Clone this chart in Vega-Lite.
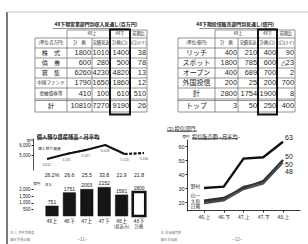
{
"$schema": "https://vega.github.io/schema/vega-lite/v6.json",
"width": 308, "height": 244, "padding": 0, "autosize": "none",
"background": "#ffffff",
"config": {"view": {"stroke": null}, "axis": {"grid": false, "labelFont": "Liberation Sans", "labelColor": "#222", "domainColor": "#222", "tickColor": "#222", "labelFontSize": 5, "title": null}, "text": {"font": "Noto Sans CJK JP", "color": "#1a1a1a"}},
"datasets": {
"frame": [{"a":0,"b":0,"a2":0,"b2":1,"s":"left"},{"a":0,"b":0,"a2":1,"b2":0,"s":"top"}],
"foot": [{"a":0.01,"b":0.953,"t":"注: 1. 月平均残高"},{"a":0.01,"b":0.984,"t":"資料 営業企画"},{"a":0.51,"b":0.953,"t":"注: 投信販売額"},{"a":0.51,"b":0.984,"t":"資料 投信部"}],
"page": [{"a":0.25,"b":0.983,"t":"−11−"},{"a":0.765,"b":0.983,"t":"−12−"}],
"grid": [
{"c":1,"r":0,"c2":5,"r2":0},{"c":0,"r":1,"c2":5,"r2":1},{"c":0,"r":2,"c2":5,"r2":2},{"c":0,"r":3,"c2":5,"r2":3},{"c":0,"r":4,"c2":5,"r2":4},{"c":0,"r":5,"c2":5,"r2":5},{"c":0,"r":6,"c2":5,"r2":6},{"c":0,"r":7,"c2":5,"r2":7},{"c":0,"r":7.12,"c2":5,"r2":7.12},{"c":0,"r":8,"c2":5,"r2":8},
{"c":0,"r":1,"c2":0,"r2":8},{"c":1,"r":0,"c2":1,"r2":8},{"c":2,"r":1,"c2":2,"r2":8},{"c":5,"r":0,"c2":5,"r2":8},
{"c":11,"r":0,"c2":15,"r2":0},{"c":10,"r":1,"c2":15,"r2":1},{"c":10,"r":2,"c2":15,"r2":2},{"c":10,"r":3,"c2":15,"r2":3},{"c":10,"r":4,"c2":15,"r2":4},{"c":10,"r":5,"c2":15,"r2":5},{"c":10,"r":6,"c2":15,"r2":6},{"c":10,"r":7,"c2":15,"r2":7},{"c":10,"r":7.12,"c2":15,"r2":7.12},{"c":10,"r":8,"c2":15,"r2":8},
{"c":10,"r":1,"c2":10,"r2":8},{"c":11,"r":0,"c2":11,"r2":8},{"c":12,"r":1,"c2":12,"r2":8},{"c":15,"r":0,"c2":15,"r2":8},
{"c":0.55,"r":-0.18,"c2":3.95,"r2":-0.18},{"c":10.58,"r":-0.18,"c2":13.95,"r2":-0.18}
],
"box": [{"c":3,"r":-0.05,"c2":4,"r2":8.2},{"c":13,"r":-0.05,"c2":14,"r2":8.2}],
"cells": [
{"c":2.22,"r":-0.62,"t":"48下期営業部門別収入見通し(百万円)","k":"ttl"},
{"c":11.88,"r":-0.62,"t":"48下期投信販売部門別見通し(億円)","k":"ttl"},
{"c":2,"r":0.5,"t":"48上","k":"hdr"},{"c":3.5,"r":0.5,"t":"48下","k":"hdr"},{"c":4.5,"r":0.5,"t":"前期比","k":"hdr"},
{"c":0.5,"r":1.5,"t":"(単位:百万円)","k":"hdr"},{"c":1.5,"r":1.5,"t":"計　画","k":"hdr"},{"c":2.5,"r":1.5,"t":"実績見込","k":"hdr"},{"c":3.5,"r":1.5,"t":"計画(ロ)","k":"hdr"},{"c":4.5,"r":1.5,"t":"(ロ)/(イ)","k":"hdr"},
{"c":12,"r":0.5,"t":"48上","k":"hdr"},{"c":13.5,"r":0.5,"t":"48下","k":"hdr"},{"c":14.5,"r":0.5,"t":"前期比","k":"hdr"},
{"c":10.5,"r":1.5,"t":"(単位:億円)","k":"hdr"},{"c":11.5,"r":1.5,"t":"計　画","k":"hdr"},{"c":12.5,"r":1.5,"t":"実績見込","k":"hdr"},{"c":13.5,"r":1.5,"t":"計画(ロ)","k":"hdr"},{"c":14.5,"r":1.5,"t":"(ロ)/(イ)","k":"hdr"},
{"c":0.5,"r":2.5,"t":"株　式","k":"lab"},{"c":0.5,"r":3.5,"t":"債　券","k":"lab"},{"c":0.5,"r":4.5,"t":"募　集","k":"lab"},{"c":0.5,"r":5.5,"t":"中国ファンド","k":"labs"},{"c":0.5,"r":6.5,"t":"金融債券等","k":"labs"},{"c":0.5,"r":7.5,"t":"計","k":"lab"},
{"c":10.5,"r":2.5,"t":"リッチ","k":"labr"},{"c":10.5,"r":3.5,"t":"スポット","k":"labr"},{"c":10.5,"r":4.5,"t":"オープン","k":"labr"},{"c":10.5,"r":5.5,"t":"外国投信","k":"labr"},{"c":10.5,"r":6.5,"t":"計","k":"labr"},{"c":10.5,"r":7.5,"t":"トップ","k":"labr"},
{"c":2,"r":2.5,"t":"1800","k":"num"},{"c":3,"r":2.5,"t":"1010","k":"num"},{"c":4,"r":2.5,"t":"1400","k":"num"},{"c":5,"r":2.5,"t":"38","k":"num"},
{"c":2,"r":3.5,"t":"600","k":"num"},{"c":3,"r":3.5,"t":"280","k":"num"},{"c":4,"r":3.5,"t":"500","k":"num"},{"c":5,"r":3.5,"t":"78","k":"num"},
{"c":2,"r":4.5,"t":"6260","k":"num"},{"c":3,"r":4.5,"t":"4230","k":"num"},{"c":4,"r":4.5,"t":"4820","k":"num"},{"c":5,"r":4.5,"t":"13","k":"num"},
{"c":2,"r":5.5,"t":"1790","k":"num"},{"c":3,"r":5.5,"t":"1650","k":"num"},{"c":4,"r":5.5,"t":"1860","k":"num"},{"c":5,"r":5.5,"t":"12","k":"num"},
{"c":2,"r":6.5,"t":"410","k":"num"},{"c":3,"r":6.5,"t":"100","k":"num"},{"c":4,"r":6.5,"t":"610","k":"num"},{"c":5,"r":6.5,"t":"510","k":"num"},
{"c":2,"r":7.5,"t":"10810","k":"num"},{"c":3,"r":7.5,"t":"7270","k":"num"},{"c":4,"r":7.5,"t":"9190","k":"num"},{"c":5,"r":7.5,"t":"26","k":"num"},
{"c":12,"r":2.5,"t":"400","k":"num"},{"c":13,"r":2.5,"t":"210","k":"num"},{"c":14,"r":2.5,"t":"400","k":"num"},{"c":15,"r":2.5,"t":"90","k":"num"},
{"c":12,"r":3.5,"t":"1800","k":"num"},{"c":13,"r":3.5,"t":"785","k":"num"},{"c":14,"r":3.5,"t":"600","k":"num"},{"c":15,"r":3.5,"t":"△23","k":"num"},
{"c":12,"r":4.5,"t":"400","k":"num"},{"c":13,"r":4.5,"t":"689","k":"num"},{"c":14,"r":4.5,"t":"700","k":"num"},{"c":15,"r":4.5,"t":"2","k":"num"},
{"c":12,"r":5.5,"t":"200","k":"num"},{"c":13,"r":5.5,"t":"25","k":"num"},{"c":14,"r":5.5,"t":"200","k":"num"},{"c":15,"r":5.5,"t":"700","k":"num"},
{"c":12,"r":6.5,"t":"2800","k":"num"},{"c":13,"r":6.5,"t":"1754","k":"num"},{"c":14,"r":6.5,"t":"1900","k":"num"},{"c":15,"r":6.5,"t":"8","k":"num"},
{"c":12,"r":7.5,"t":"3","k":"num"},{"c":13,"r":7.5,"t":"50","k":"num"},{"c":14,"r":7.5,"t":"250","k":"num"},{"c":15,"r":7.5,"t":"400","k":"num"}
],
"lineL": [{"p":0,"v":4600,"seg":"a"},{"p":1,"v":5100,"seg":"a"},{"p":2,"v":5500,"seg":"a"},{"p":3,"v":6000,"seg":"a"},{"p":4,"v":5100,"seg":"a"},{"p":4,"v":5100,"seg":"b"},{"p":5,"v":5200,"seg":"b"}],
"ptsL": [{"p":0,"v":4600,"t":"4,612"},{"p":1,"v":5100,"t":"5,135"},{"p":2,"v":5500,"t":"5,527"},{"p":3,"v":6000,"t":"6,028"},{"p":4,"v":5100,"t":"5,113"},{"p":5,"v":5200,"t":"5,200"}],
"annL": [{"p":1.08,"v":6800,"t":"個人預り資産残高・月平均","k":"ttl"},{"p":-0.88,"v":6400,"t":"億円","k":"u"},{"p":-0.46,"v":5600,"t":"個人預り資産","k":"s"}],
"ulL": [{"p":-0.52,"v":6680,"p2":2.73}],
"bars": [
{"p":0,"v":751,"t":"751","pct":"26.2%","lbl":"46上","lbl2":"","kind":"a"},
{"p":1,"v":1751,"t":"1751","pct":"26.6","lbl":"46下","lbl2":"","kind":"a"},
{"p":2,"v":2003,"t":"2003","pct":"25.5","lbl":"47上","lbl2":"","kind":"a"},
{"p":3,"v":2152,"t":"2152","pct":"33.8","lbl":"47下","lbl2":"","kind":"a"},
{"p":4,"v":1581,"t":"1581","pct":"22.9","lbl":"48上","lbl2":"(見込み)","kind":"a"},
{"p":5,"v":1800,"t":"1800","pct":"21.8","lbl":"48下","lbl2":"計画","kind":"b"}
],
"annB": [{"p":-0.88,"v":2380,"t":"億円"},{"p":-0.2,"v":2300,"t":"収入"}],
"lineR": [
{"p":0,"v":30,"s":"野村"},{"p":1,"v":31,"s":"野村"},{"p":2,"v":51,"s":"野村"},{"p":3,"v":52,"s":"野村"},{"p":4,"v":63,"s":"野村"},
{"p":0,"v":21,"s":"山一"},{"p":1,"v":23,"s":"山一"},{"p":2,"v":30,"s":"山一"},{"p":3,"v":35,"s":"山一"},{"p":4,"v":50,"s":"山一"},
{"p":0,"v":20,"s":"大和"},{"p":1,"v":22,"s":"大和"},{"p":2,"v":31,"s":"大和"},{"p":3,"v":34,"s":"大和"},{"p":4,"v":50,"s":"大和"},
{"p":0,"v":19,"s":"日興"},{"p":1,"v":21,"s":"日興"},{"p":2,"v":29,"s":"日興"},{"p":3,"v":33,"s":"日興"},{"p":4,"v":48,"s":"日興"}
],
"endR": [{"p":4.3,"v":66,"t":"63"},{"p":4.3,"v":52,"t":"50"},{"p":4.3,"v":46.5,"t":"50"},{"p":4.3,"v":41.5,"t":"48"}],
"leftR": [{"p":-0.2,"v":30.5,"t":"野村"},{"p":-0.2,"v":24,"t":"山一"},{"p":-0.2,"v":20.3,"t":"大和"},{"p":-0.2,"v":16.8,"t":"日興"}],
"annR": [{"p":-1.87,"v":72.3,"t":"(2) 投信部門","k":"h"},{"p":-0.61,"v":66.5,"t":"投信販売額 −月平均−","k":"h"},{"p":-1.1,"v":66.5,"t":"億円","k":"u"}],
"ulR": [{"p":-1.87,"v":70.6,"p2":-0.35},{"p":-0.61,"v":65.2,"p2":1.72}]
},
"resolve": {"scale": {"x": "independent", "y": "independent", "color": "independent", "strokeWidth": "independent", "strokeDash": "independent", "fill": "independent"}},
"layer": [
{
"encoding": {
"x": {"field": "a", "type": "quantitative", "scale": {"domain": [0, 1], "range": [7, 308], "zero": false, "nice": false}, "axis": null},
"y": {"field": "b", "type": "quantitative", "scale": {"domain": [0, 1], "range": [12, 244], "zero": false, "nice": false}, "axis": null}
},
"layer": [
{"data": {"name": "frame"}, "mark": {"type": "rule"}, "encoding": {"x2": {"field": "a2"}, "y2": {"field": "b2"},
"color": {"field": "s", "type": "nominal", "scale": {"domain": ["left", "top"], "range": ["#7a7a7a", "#c4c4c4"]}, "legend": null},
"strokeWidth": {"field": "s", "type": "nominal", "scale": {"domain": ["left", "top"], "range": [2, 1.2]}, "legend": null}}},
{"data": {"name": "foot"}, "mark": {"type": "text", "align": "left", "fontSize": 3.2, "color": "#777"}, "encoding": {"text": {"field": "t"}}},
{"data": {"name": "page"}, "mark": {"type": "text", "fontSize": 4.5, "color": "#555"}, "encoding": {"text": {"field": "t"}}}
]
},
{
"encoding": {
"x": {"field": "c", "type": "quantitative", "scale": {"domain": [0,1,2,3,4,5,10,11,12,13,14,15], "range": [35,67,92,110,130,147,178,215,238,258,277,295], "zero": false, "nice": false}, "axis": null},
"y": {"field": "r", "type": "quantitative", "scale": {"domain": [0,1,2,3,4,5,6,7,8], "range": [30,38,48,58,68,78,88,99,112], "zero": false, "nice": false}, "axis": null}
},
"layer": [
{"data": {"name": "grid"}, "mark": {"type": "rule", "color": "#666", "strokeWidth": 0.7}, "encoding": {"x2": {"field": "c2"}, "y2": {"field": "r2"}}},
{"data": {"name": "box"}, "mark": {"type": "rect", "fillOpacity": 0, "stroke": "#111", "strokeWidth": 2}, "encoding": {"x2": {"field": "c2"}, "y2": {"field": "r2"}}},
{"data": {"name": "cells"}, "transform": [{"filter": "datum.k === 'num'"}], "mark": {"type": "text", "align": "right", "dx": -1, "baseline": "middle", "font": "Liberation Sans", "fontSize": 7.4, "color": "#2a2a2a"}, "encoding": {"text": {"field": "t"}}},
{"data": {"name": "cells"}, "transform": [{"filter": "datum.k === 'lab'"}], "mark": {"type": "text", "baseline": "middle", "fontSize": 6.2}, "encoding": {"text": {"field": "t"}}},
{"data": {"name": "cells"}, "transform": [{"filter": "datum.k === 'labs'"}], "mark": {"type": "text", "baseline": "middle", "fontSize": 4.6}, "encoding": {"text": {"field": "t"}}},
{"data": {"name": "cells"}, "transform": [{"filter": "datum.k === 'labr'"}], "mark": {"type": "text", "baseline": "middle", "fontSize": 7}, "encoding": {"text": {"field": "t"}}},
{"data": {"name": "cells"}, "transform": [{"filter": "datum.k === 'hdr'"}], "mark": {"type": "text", "baseline": "middle", "fontSize": 4.2}, "encoding": {"text": {"field": "t"}}},
{"data": {"name": "cells"}, "transform": [{"filter": "datum.k === 'ttl'"}], "mark": {"type": "text", "baseline": "middle", "fontSize": 4.9, "fontWeight": "bold"}, "encoding": {"text": {"field": "t"}}}
]
},
{
"encoding": {
"x": {"field": "p", "type": "quantitative", "scale": {"domain": [0, 5], "range": [47, 144], "zero": false, "nice": false}, "axis": null},
"y": {"field": "v", "type": "quantitative", "scale": {"domain": [3500, 6700], "range": [170, 138], "zero": false, "nice": false}, "axis": {"orient": "left", "offset": -33, "values": [5000, 6000], "tickSize": 2, "labelFontSize": 4.5, "labelPadding": 1, "domainWidth": 0.8}}
},
"layer": [
{"data": {"name": "lineL"}, "mark": {"type": "line", "color": "#111", "strokeWidth": 2.2}, "encoding": {"strokeDash": {"field": "seg", "type": "nominal", "scale": {"domain": ["a", "b"], "range": [[1, 0], [3, 1.5]]}, "legend": null}}},
{"data": {"name": "ptsL"}, "mark": {"type": "text", "fontSize": 3.4, "dy": 6, "font": "Liberation Sans", "color": "#555"}, "encoding": {"text": {"field": "t"}}},
{"data": {"name": "annL"}, "transform": [{"filter": "datum.k === 'ttl'"}], "mark": {"type": "text", "fontSize": 5.2, "fontWeight": "bold"}, "encoding": {"text": {"field": "t"}}},
{"data": {"name": "annL"}, "transform": [{"filter": "datum.k === 'u'"}], "mark": {"type": "text", "fontSize": 3.5}, "encoding": {"text": {"field": "t"}}},
{"data": {"name": "annL"}, "transform": [{"filter": "datum.k === 's'"}], "mark": {"type": "text", "align": "left", "fontSize": 3.8}, "encoding": {"text": {"field": "t"}}},
{"data": {"name": "ulL"}, "mark": {"type": "rule", "color": "#222", "strokeWidth": 0.8}, "encoding": {"x2": {"field": "p2"}}}
]
},
{
"encoding": {
"x": {"field": "p", "type": "quantitative", "scale": {"domain": [0, 5], "range": [47, 144], "zero": false, "nice": false}, "axis": null}
},
"layer": [
{"data": {"name": "bars"}, "mark": {"type": "bar", "width": 12.5, "stroke": "#111"}, "encoding": {
"y": {"field": "v", "type": "quantitative", "scale": {"domain": [0, 3000], "range": [216, 176], "zero": false, "nice": false}, "axis": {"orient": "left", "offset": -33, "values": [500, 1000, 1500, 2000], "domain": false, "tickSize": 2, "labelFontSize": 4.5, "labelPadding": 1}},
"y2": {"datum": 0},
"fill": {"field": "kind", "type": "nominal", "scale": {"domain": ["a", "b"], "range": ["#151515", "#ffffff"]}, "legend": null},
"strokeWidth": {"field": "kind", "type": "nominal", "scale": {"domain": ["a", "b"], "range": [0.5, 2.6]}, "legend": null}}},
{"data": {"name": "bars"}, "mark": {"type": "text", "dy": -4, "fontSize": 5, "font": "Liberation Sans"}, "encoding": {"y": {"field": "v", "type": "quantitative"}, "text": {"field": "t"}}},
{"data": {"name": "bars"}, "mark": {"type": "text", "fontSize": 5.2, "font": "Liberation Sans"}, "encoding": {"y": {"datum": 3050, "type": "quantitative"}, "text": {"field": "pct"}}},
{"data": {"name": "bars"}, "mark": {"type": "text", "fontSize": 5.2}, "encoding": {"y": {"datum": -380, "type": "quantitative"}, "text": {"field": "lbl"}}},
{"data": {"name": "bars"}, "mark": {"type": "text", "fontSize": 4.2}, "encoding": {"y": {"datum": -850, "type": "quantitative"}, "text": {"field": "lbl2"}}},
{"data": {"name": "annB"}, "mark": {"type": "text", "fontSize": 3.5}, "encoding": {"y": {"field": "v", "type": "quantitative"}, "text": {"field": "t"}}},
{"data": {"values": [{}]}, "mark": {"type": "rule", "color": "#222", "strokeWidth": 0.8}, "encoding": {"x": {"datum": -0.72, "type": "quantitative"}, "y": {"datum": 0, "type": "quantitative"}, "y2": {"datum": 2450}}}
]
},
{
"encoding": {
"x": {"field": "p", "type": "quantitative", "scale": {"domain": [-0.86, 4.86], "range": [187, 300], "zero": false, "nice": false}, "axis": {"orient": "bottom", "offset": -34, "values": [0, 1, 2, 3, 4], "labelExpr": "['46.上','46.下','47.上','47.下','48.上'][datum.value]", "tickSize": 2, "labelPadding": 2, "labelFont": "Noto Sans CJK JP", "labelFontSize": 5, "domainWidth": 0.9}},
"y": {"field": "v", "type": "quantitative", "scale": {"domain": [13.6, 65], "range": [211, 139], "zero": false, "nice": false}, "axis": {"orient": "left", "offset": -187, "values": [20, 30, 40, 50, 60], "tickSize": 2, "labelFontSize": 5.5, "labelPadding": 1, "domainWidth": 0.9}}
},
"layer": [
{"data": {"name": "lineR"}, "mark": {"type": "line"}, "encoding": {
"detail": {"field": "s"},
"color": {"field": "s", "type": "nominal", "scale": {"domain": ["野村", "山一", "大和", "日興"], "range": ["#111111", "#2a2a2a", "#3c3c3c", "#4a4a4a"]}, "legend": null},
"strokeWidth": {"field": "s", "type": "nominal", "scale": {"domain": ["野村", "山一", "大和", "日興"], "range": [2.4, 1.6, 1.6, 1.6]}, "legend": null}}},
{"data": {"name": "endR"}, "mark": {"type": "text", "fontSize": 7, "font": "Liberation Sans"}, "encoding": {"text": {"field": "t"}}},
{"data": {"name": "leftR"}, "mark": {"type": "text", "align": "right", "fontSize": 4.6}, "encoding": {"text": {"field": "t"}}},
{"data": {"name": "annR"}, "transform": [{"filter": "datum.k === 'h'"}], "mark": {"type": "text", "align": "left", "fontSize": 5.2}, "encoding": {"text": {"field": "t"}}},
{"data": {"name": "annR"}, "transform": [{"filter": "datum.k === 'u'"}], "mark": {"type": "text", "align": "left", "fontSize": 3.6}, "encoding": {"text": {"field": "t"}}},
{"data": {"name": "ulR"}, "mark": {"type": "rule", "color": "#222", "strokeWidth": 0.8}, "encoding": {"x2": {"field": "p2"}}},
{"data": {"values": [{}]}, "mark": {"type": "text", "fontSize": 4.2}, "encoding": {"x": {"datum": 4, "type": "quantitative"}, "y": {"datum": 3, "type": "quantitative"}, "text": {"value": "(実績見込)"}}}
]
}
]
}
